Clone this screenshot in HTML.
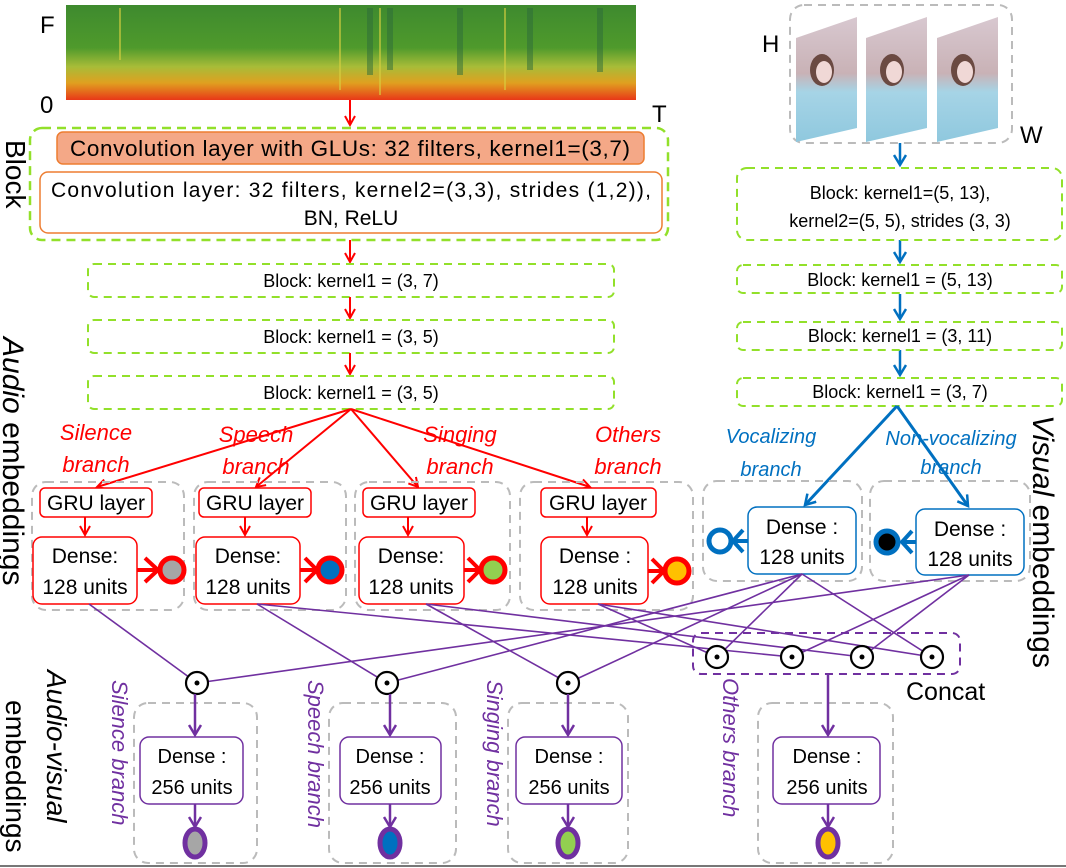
<!DOCTYPE html>
<html><head><meta charset="utf-8"><style>
html,body{margin:0;padding:0;background:#fff;}
svg{display:block;font-family:"Liberation Sans",sans-serif;}
</style></head><body>
<svg width="1066" height="868" viewBox="0 0 1066 868" xmlns="http://www.w3.org/2000/svg">
<defs>
<linearGradient id="spec" x1="0" y1="0" x2="0" y2="1">
<stop offset="0" stop-color="#3e8a2e"/><stop offset="0.45" stop-color="#4f9a2c"/>
<stop offset="0.65" stop-color="#a8bc38"/><stop offset="0.82" stop-color="#e0a020"/><stop offset="1" stop-color="#e83818"/>
</linearGradient>
<linearGradient id="ph" x1="0" y1="0" x2="0" y2="1">
<stop offset="0" stop-color="#d8c8d0"/><stop offset="0.45" stop-color="#c9b2b6"/><stop offset="0.6" stop-color="#a6d4e6"/><stop offset="1" stop-color="#8fc8de"/>
</linearGradient>
<marker id="ar" markerWidth="12" markerHeight="12" refX="10" refY="6" orient="auto" markerUnits="userSpaceOnUse"><path d="M1,1 L10,6 L1,11" fill="none" stroke="#f00" stroke-width="2"/></marker>
<marker id="ab" markerWidth="14" markerHeight="14" refX="11" refY="7" orient="auto" markerUnits="userSpaceOnUse"><path d="M1,1 L11,7 L1,13" fill="none" stroke="#0070c0" stroke-width="2.5"/></marker>
<marker id="ap" markerWidth="14" markerHeight="14" refX="11" refY="7" orient="auto" markerUnits="userSpaceOnUse"><path d="M1,1 L11,7 L1,13" fill="none" stroke="#7030a0" stroke-width="2.5"/></marker>
</defs>

<!-- spectrogram -->
<rect x="66" y="5" width="570" height="95" fill="url(#spec)"/>
<g stroke="#2d6b3a" stroke-width="6" opacity="0.5">
<line x1="370" y1="8" x2="370" y2="75"/><line x1="390" y1="8" x2="390" y2="70"/><line x1="460" y1="8" x2="460" y2="75"/><line x1="530" y1="8" x2="530" y2="70"/><line x1="600" y1="8" x2="600" y2="72"/>
</g>
<g stroke="#d8d040" stroke-width="2" opacity="0.6">
<line x1="120" y1="8" x2="120" y2="60"/><line x1="340" y1="8" x2="340" y2="90"/><line x1="380" y1="8" x2="380" y2="95"/><line x1="505" y1="8" x2="505" y2="90"/>
</g>
<text x="40" y="33" font-size="24">F</text>
<text x="40" y="113" font-size="24">0</text>
<text x="652" y="122" font-size="24">T</text>
<line x1="350" y1="100" x2="350" y2="125" stroke="#f00" stroke-width="2" marker-end="url(#ar)"/>

<!-- Audio block 1 -->
<rect x="30" y="128" width="638" height="112" rx="12" fill="none" stroke="#92e02a" stroke-width="2.5" stroke-dasharray="9,6"/>
<rect x="57" y="132" width="587" height="32" rx="6" fill="#f4a887" stroke="#ed7d31" stroke-width="1.5"/>
<text x="350" y="156" font-size="22.5" text-anchor="middle" textLength="560">Convolution layer with GLUs: 32 filters, kernel1=(3,7)</text>
<rect x="40" y="172" width="622" height="61" rx="8" fill="#fff" stroke="#ed7d31" stroke-width="1.5"/>
<text x="351" y="197" font-size="21" text-anchor="middle" textLength="600">Convolution layer: 32 filters, kernel2=(3,3), strides (1,2)),</text>
<text x="351" y="225" font-size="21" text-anchor="middle">BN, ReLU</text>
<text transform="translate(6,140) rotate(90)" font-size="28">Block</text>

<line x1="350" y1="240" x2="350" y2="262" stroke="#f00" stroke-width="2" marker-end="url(#ar)"/>
<rect x="88" y="264" width="526" height="33" rx="6" fill="none" stroke="#92e02a" stroke-width="2" stroke-dasharray="8,6"/>
<text x="351" y="287" font-size="18" text-anchor="middle">Block: kernel1 = (3, 7)</text>
<line x1="350" y1="297" x2="350" y2="318" stroke="#f00" stroke-width="2" marker-end="url(#ar)"/>
<rect x="88" y="320" width="526" height="33" rx="6" fill="none" stroke="#92e02a" stroke-width="2" stroke-dasharray="8,6"/>
<text x="351" y="343" font-size="18" text-anchor="middle">Block: kernel1 = (3, 5)</text>
<line x1="350" y1="353" x2="350" y2="374" stroke="#f00" stroke-width="2" marker-end="url(#ar)"/>
<rect x="88" y="376" width="526" height="33" rx="6" fill="none" stroke="#92e02a" stroke-width="2" stroke-dasharray="8,6"/>
<text x="351" y="399" font-size="18" text-anchor="middle">Block: kernel1 = (3, 5)</text>

<!-- fan -->
<g stroke="#f00" stroke-width="2" fill="none">
<line x1="351" y1="409" x2="97" y2="487" marker-end="url(#ar)"/>
<line x1="351" y1="409" x2="256" y2="487" marker-end="url(#ar)"/>
<line x1="351" y1="409" x2="418" y2="487" marker-end="url(#ar)"/>
<line x1="351" y1="409" x2="590" y2="487" marker-end="url(#ar)"/>
</g>
<g fill="#f00" font-style="italic" font-size="22" text-anchor="middle">
<text x="96" y="440">Silence</text><text x="96" y="472">branch</text>
<text x="256" y="442">Speech</text><text x="256" y="474">branch</text>
<text x="460" y="442">Singing</text><text x="460" y="474">branch</text>
<text x="628" y="442">Others</text><text x="628" y="474">branch</text>
</g>

<!-- audio branch containers -->
<g fill="none" stroke="#bbb" stroke-width="2" stroke-dasharray="8,6">
<rect x="32" y="482" width="152" height="128" rx="14"/>
<rect x="194" y="482" width="152" height="128" rx="14"/>
<rect x="355" y="482" width="155" height="128" rx="14"/>
<rect x="520" y="482" width="173" height="128" rx="14"/>
</g>
<g fill="#fff" stroke="#f00" stroke-width="1.5">
<rect x="40" y="488" width="112" height="29" rx="5"/><rect x="199" y="488" width="112" height="29" rx="5"/>
<rect x="363" y="488" width="112" height="29" rx="5"/><rect x="541" y="488" width="115" height="29" rx="5"/>
<rect x="33" y="537" width="104" height="67" rx="9"/><rect x="196" y="537" width="104" height="67" rx="9"/>
<rect x="359" y="537" width="105" height="67" rx="9"/><rect x="541" y="537" width="107" height="67" rx="9"/>
</g>
<g font-size="21" text-anchor="middle">
<text x="96" y="510">GRU layer</text><text x="255" y="510">GRU layer</text><text x="419" y="510">GRU layer</text><text x="598" y="510">GRU layer</text>
<text x="85" y="563">Dense:</text><text x="85" y="594">128 units</text>
<text x="248" y="563">Dense:</text><text x="248" y="594">128 units</text>
<text x="411" y="563">Dense:</text><text x="411" y="594">128 units</text>
<text x="595" y="563">Dense :</text><text x="595" y="594">128 units</text>
</g>
<g stroke="#f00" stroke-width="2">
<line x1="85" y1="517" x2="85" y2="535" marker-end="url(#ar)"/>
<line x1="245" y1="517" x2="245" y2="535" marker-end="url(#ar)"/>
<line x1="408" y1="517" x2="408" y2="535" marker-end="url(#ar)"/>
<line x1="587" y1="517" x2="587" y2="535" marker-end="url(#ar)"/>
</g>
<g stroke="#f00" stroke-width="4" fill="none">
<path d="M137,570 H158 M145,558 L158,570 L145,582"/>
<path d="M300,570 H317 M305,558 L317,570 L305,582"/>
<path d="M464,570 H480 M468,558 L480,570 L468,582"/>
<path d="M648,571 H664 M652,559 L664,571 L652,583"/>
</g>
<circle cx="172" cy="570" r="12" fill="#a6a6a6" stroke="#f00" stroke-width="5"/>
<circle cx="330" cy="570" r="12" fill="#0070c0" stroke="#f00" stroke-width="5"/>
<circle cx="493" cy="570" r="12" fill="#92d050" stroke="#f00" stroke-width="5"/>
<circle cx="677" cy="571" r="12" fill="#ffc000" stroke="#f00" stroke-width="5"/>
<text transform="translate(3,337) rotate(90)" font-size="30"><tspan font-style="italic">Audio</tspan> embeddings</text>

<!-- visual -->
<rect x="790" y="5" width="222" height="138" rx="14" fill="none" stroke="#bbb" stroke-width="2" stroke-dasharray="8,6"/>
<g stroke="none" fill="url(#ph)">
<polygon points="796,38 857,17 857,128 796,142"/>
<polygon points="866,38 927,17 927,128 866,142"/>
<polygon points="937,38 998,17 998,128 937,142"/>
</g>
<g fill="#6b4a42"><ellipse cx="822" cy="70" rx="12" ry="16"/><ellipse cx="892" cy="70" rx="12" ry="16"/><ellipse cx="963" cy="70" rx="12" ry="16"/></g>
<g fill="#f0d8d6"><ellipse cx="824" cy="72" rx="8" ry="11"/><ellipse cx="894" cy="72" rx="8" ry="11"/><ellipse cx="965" cy="72" rx="8" ry="11"/></g>
<text x="762" y="52" font-size="24">H</text>
<text x="1020" y="143" font-size="24">W</text>
<g stroke="#0070c0" stroke-width="2.5">
<line x1="900" y1="143" x2="900" y2="165" marker-end="url(#ab)"/>
<line x1="900" y1="240" x2="900" y2="262" marker-end="url(#ab)"/>
<line x1="900" y1="294" x2="900" y2="319" marker-end="url(#ab)"/>
<line x1="900" y1="350" x2="900" y2="375" marker-end="url(#ab)"/>
</g>
<g fill="none" stroke="#92e02a" stroke-width="2" stroke-dasharray="8,6">
<rect x="737" y="168" width="325" height="72" rx="10"/>
<rect x="737" y="265" width="325" height="28" rx="6"/>
<rect x="737" y="322" width="325" height="28" rx="6"/>
<rect x="737" y="378" width="325" height="28" rx="6"/>
</g>
<g font-size="18" text-anchor="middle">
<text x="900" y="199">Block: kernel1=(5, 13),</text>
<text x="900" y="227">kernel2=(5, 5), strides (3, 3)</text>
<text x="900" y="286">Block: kernel1 = (5, 13)</text>
<text x="900" y="342">Block: kernel1 = (3, 11)</text>
<text x="900" y="398">Block: kernel1 = (3, 7)</text>
</g>
<g stroke="#0070c0" stroke-width="3">
<line x1="897" y1="406" x2="805" y2="505" marker-end="url(#ab)"/>
<line x1="897" y1="406" x2="968" y2="506" marker-end="url(#ab)"/>
</g>
<g fill="#0070c0" font-style="italic" font-size="20" text-anchor="middle">
<text x="771" y="443">Vocalizing</text><text x="771" y="476">branch</text>
<text x="951" y="445">Non-vocalizing</text><text x="951" y="474">branch</text>
</g>
<g fill="none" stroke="#bbb" stroke-width="2" stroke-dasharray="8,6">
<rect x="703" y="481" width="159" height="100" rx="14"/>
<rect x="870" y="481" width="160" height="100" rx="14"/>
</g>
<g fill="#fff" stroke="#0070c0" stroke-width="1.5">
<rect x="748" y="507" width="108" height="67" rx="9"/>
<rect x="916" y="509" width="108" height="66" rx="9"/>
</g>
<g font-size="21" text-anchor="middle">
<text x="802" y="534">Dense :</text><text x="802" y="564">128 units</text>
<text x="970" y="536">Dense :</text><text x="970" y="566">128 units</text>
</g>
<g stroke="#0070c0" stroke-width="4" fill="none">
<path d="M748,541 H733 M743,530 L733,541 L743,552"/>
<path d="M916,542 H902 M912,531 L902,542 L912,553"/>
</g>
<circle cx="720" cy="541" r="11" fill="#fff" stroke="#0070c0" stroke-width="5"/>
<circle cx="887" cy="542" r="11" fill="#000" stroke="#0070c0" stroke-width="5"/>
<text transform="translate(1033,415) rotate(90)" font-size="30"><tspan font-style="italic">Visual</tspan> embeddings</text>

<!-- purple connections -->
<g stroke="#7030a0" stroke-width="1.6">
<line x1="89" y1="604" x2="197" y2="683"/>
<line x1="969" y1="575" x2="197" y2="683"/>
<line x1="257" y1="604" x2="387" y2="683"/>
<line x1="802" y1="574" x2="387" y2="683"/>
<line x1="426" y1="604" x2="568" y2="683"/>
<line x1="802" y1="574" x2="568" y2="683"/>
<line x1="257" y1="604" x2="792" y2="657"/>
<line x1="426" y1="604" x2="862" y2="657"/>
<line x1="598" y1="604" x2="717" y2="657"/>
<line x1="598" y1="604" x2="932" y2="657"/>
<line x1="802" y1="574" x2="717" y2="657"/>
<line x1="802" y1="574" x2="932" y2="657"/>
<line x1="969" y1="575" x2="792" y2="657"/>
<line x1="969" y1="575" x2="862" y2="657"/>
</g>
<rect x="693" y="633" width="267" height="41" rx="8" fill="none" stroke="#7030a0" stroke-width="2" stroke-dasharray="8,6"/>
<g fill="#fff" stroke="#000" stroke-width="2.2">
<circle cx="197" cy="683" r="11"/><circle cx="387" cy="683" r="11"/><circle cx="568" cy="683" r="11"/>
<circle cx="717" cy="657" r="11"/><circle cx="792" cy="657" r="11"/><circle cx="862" cy="657" r="11"/><circle cx="932" cy="657" r="11"/>
</g>
<g fill="#000">
<circle cx="197" cy="683" r="2.5"/><circle cx="387" cy="683" r="2.5"/><circle cx="568" cy="683" r="2.5"/>
<circle cx="717" cy="657" r="2.5"/><circle cx="792" cy="657" r="2.5"/><circle cx="862" cy="657" r="2.5"/><circle cx="932" cy="657" r="2.5"/>
</g>
<text x="906" y="700" font-size="25">Concat</text>

<!-- AV branches -->
<g fill="none" stroke="#bbb" stroke-width="2" stroke-dasharray="8,6">
<rect x="134" y="703" width="123" height="160" rx="14"/>
<rect x="329" y="703" width="127" height="160" rx="14"/>
<rect x="508" y="703" width="120" height="160" rx="14"/>
<rect x="758" y="703" width="135" height="160" rx="14"/>
</g>
<g stroke="#7030a0" stroke-width="2.5">
<line x1="195" y1="694" x2="195" y2="735" marker-end="url(#ap)"/>
<line x1="390" y1="694" x2="390" y2="735" marker-end="url(#ap)"/>
<line x1="568" y1="694" x2="568" y2="735" marker-end="url(#ap)"/>
<line x1="828" y1="674" x2="828" y2="735" marker-end="url(#ap)"/>
<line x1="195" y1="804" x2="195" y2="827" marker-end="url(#ap)"/>
<line x1="390" y1="804" x2="390" y2="827" marker-end="url(#ap)"/>
<line x1="568" y1="804" x2="568" y2="827" marker-end="url(#ap)"/>
<line x1="828" y1="804" x2="828" y2="827" marker-end="url(#ap)"/>
</g>
<g fill="#fff" stroke="#7030a0" stroke-width="1.5">
<rect x="140" y="737" width="103" height="67" rx="9"/>
<rect x="340" y="737" width="101" height="67" rx="9"/>
<rect x="516" y="737" width="106" height="67" rx="9"/>
<rect x="773" y="737" width="107" height="67" rx="9"/>
</g>
<g font-size="20" text-anchor="middle">
<text x="192" y="763">Dense :</text><text x="192" y="794">256 units</text>
<text x="390" y="763">Dense :</text><text x="390" y="794">256 units</text>
<text x="569" y="763">Dense :</text><text x="569" y="794">256 units</text>
<text x="827" y="763">Dense :</text><text x="827" y="794">256 units</text>
</g>
<ellipse cx="195" cy="843" rx="10" ry="14" fill="#a6a6a6" stroke="#7030a0" stroke-width="5"/>
<ellipse cx="390" cy="843" rx="10" ry="14" fill="#0070c0" stroke="#7030a0" stroke-width="5"/>
<ellipse cx="568" cy="843" rx="10" ry="14" fill="#92d050" stroke="#7030a0" stroke-width="5"/>
<ellipse cx="828" cy="843" rx="10" ry="14" fill="#ffc000" stroke="#7030a0" stroke-width="5"/>
<g fill="#7030a0" font-style="italic" font-size="22">
<text transform="translate(112,680) rotate(90)">Silence branch</text>
<text transform="translate(308,680) rotate(90)">Speech branch</text>
<text transform="translate(487,680) rotate(90)">Singing branch</text>
<text transform="translate(723,678) rotate(90)">Others branch</text>
</g>
<text transform="translate(47,670) rotate(90)" font-size="28" font-style="italic">Audio-visual</text>
<text transform="translate(6,700) rotate(90)" font-size="28">embeddings</text>
<line x1="0" y1="866" x2="1066" y2="866" stroke="#777" stroke-width="2"/>
</svg>
</body></html>
